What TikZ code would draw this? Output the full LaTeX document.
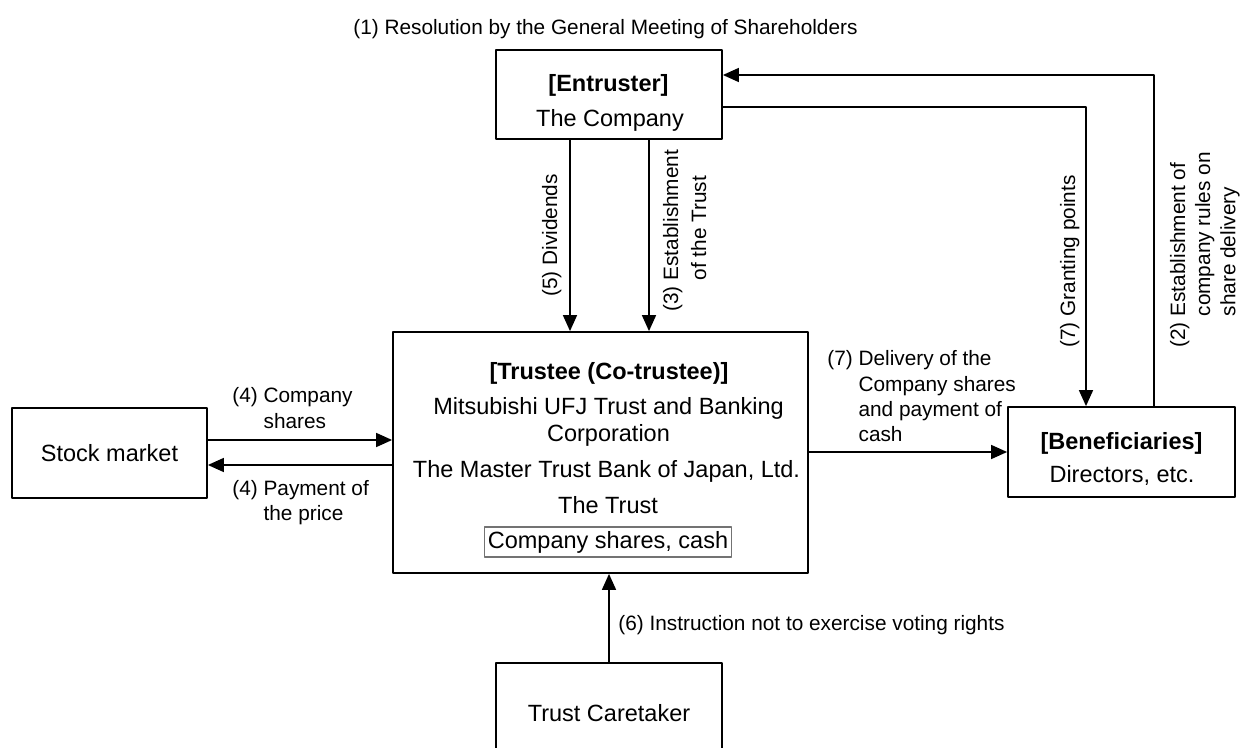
\documentclass[tikz,border=0pt]{standalone}
\usepackage{fontspec}
\setmainfont{Liberation Sans}
\usetikzlibrary{arrows.meta}

\definecolor{boxgray}{gray}{0.45}
\newcommand{\numlbl}[2]{\begin{tabular}[t]{@{}l@{ }l@{}}#1&\begin{tabular}[t]{@{}l@{}}#2\end{tabular}\end{tabular}}

\begin{document}
\begin{tikzpicture}[x=0.5pt, y=-0.5pt, line join=round,
    box/.style={draw, line width=0.9pt, inner sep=0pt},
    arr/.style={-{Triangle[length=8pt,width=7pt]}, line width=0.8pt},
    big/.style={font=\fontsize{11.75}{13.5}\selectfont},
    lbl/.style={font=\fontsize{10.4}{12.6}\selectfont, inner sep=0pt, anchor=base west}]

        \clip (0,0) rectangle (1242,748);

        % Resolution (top)
        \node[lbl] (res) at (353,35) {(1) Resolution by the General Meeting of Shareholders};

        % Entruster
        \node[box, minimum width=113pt, minimum height=44.5pt] (ent) at (609,94.5) {};
        \node[big, anchor=base] (entA) at (608.5,92) {\textbf{[Entruster]}};
        \node[big, anchor=base] (entB) at (610,127) {The Company};

        % Trustee
        \node[box, minimum width=207.5pt, minimum height=120.5pt] (tru) at (600.5,452.5) {};
        \node[big, anchor=base] (truA) at (609,380) {\textbf{[Trustee (Co-trustee)]}};
        \node[big, anchor=base] (truB) at (608.5,415) {Mitsubishi UFJ Trust and Banking};
        \node[big, anchor=base] (truC) at (608.5,442) {Corporation};
        \node[big, anchor=base] (truD) at (606.5,477) {The Master Trust Bank of Japan, Ltd.};
        \node[big, anchor=base] (truE) at (608,513) {The Trust};
        \node[big, draw=boxgray, line width=0.6pt, inner xsep=1.5pt, inner ysep=0pt, minimum height=15pt] (cash) at (608,542) {Company shares, cash};

        % Stock market, beneficiaries, caretaker
        \node[box, big, minimum width=97.5pt, minimum height=45pt] (sm) at (109.5,453) {Stock market};
        \node[box, minimum width=113.5pt, minimum height=45pt] (ben) at (1121.5,452) {};
        \node[big, anchor=base] (benA) at (1121.5,450) {\textbf{[Beneficiaries]}};
        \node[big, anchor=base] (benB) at (1122,482) {Directors, etc.};
        \node[box, big, minimum width=113pt, minimum height=50.5pt] (tc) at (609,713.5) {Trust Caretaker};

        % bends and offsets of the connectors
        \coordinate (d5) at (570,0);
        \coordinate (d3) at (649,0);
        \coordinate (g7) at (1086,107);
        \coordinate (r2) at (1154,75);
        \coordinate (s4a) at (0,440);
        \coordinate (s4b) at (0,465);

        % connectors
        \draw[arr] (ent.south -| d5) -- (tru.north -| d5);
        \draw[arr] (ent.south -| d3) -- (tru.north -| d3);
        \draw[arr] (ent.east |- g7) -- (g7) -- (ben.north -| g7);
        \draw[arr] (ben.north -| r2) -- (r2) -- (ent.east |- r2);
        \draw[arr] (sm.east |- s4a) -- (tru.west |- s4a);
        \draw[arr] (tru.west |- s4b) -- (sm.east |- s4b);
        \draw[arr] (tru.east |- ben.west) -- (ben.west);
        \draw[arr] (tc.north) -- (tc.north |- tru.south);

        % labels of the connectors
        \node[lbl] (l4a) at (232,403) {\numlbl{(4)}{Company\\shares}};
        \node[lbl] (l4b) at (232,495) {\numlbl{(4)}{Payment of\\the price}};
        \node[lbl] (l7d) at (827,366) {\numlbl{(7)}{Delivery of the\\Company shares\\and payment of\\cash}};
        \node[lbl] (l6) at (618,630) {(6) Instruction not to exercise voting rights};
        \node[lbl, rotate=90] (l5) at (557,297) {(5) Dividends};
        \node[lbl, rotate=90] (l3) at (678,312) {\numlbl{(3)}{Establishment\\[1.5pt]of the Trust}};
        \node[lbl, rotate=90] (l7g) at (1075,348) {(7) Granting points};
        \node[lbl, rotate=90] (l2) at (1185,348) {\numlbl{(2)}{Establishment of\\company rules on\\share delivery}};

\end{tikzpicture}
\end{document}
